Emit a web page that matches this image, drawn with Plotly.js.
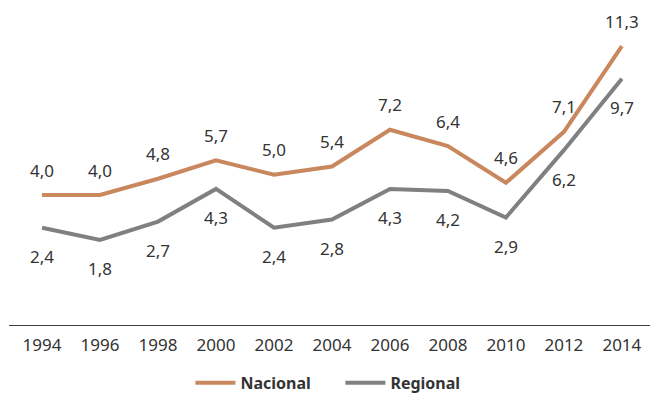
<!DOCTYPE html>
<html>
<head>
<meta charset="utf-8">
<script src="https://cdn.plot.ly/plotly-3.0.1.min.js"></script>
<style>html,body{margin:0;padding:0;background:#fff}#chart{width:652px;height:393px}</style>
</head>
<body>
<div id="chart"></div>
<script>
const years = [1994, 1996, 1998, 2000, 2002, 2004, 2006, 2008, 2010, 2012, 2014];
const nacional = [4.0, 4.0, 4.8, 5.7, 5.0, 5.4, 7.2, 6.4, 4.6, 7.1, 11.3];
const regional = [2.4, 1.8, 2.7, 4.3, 2.4, 2.8, 4.3, 4.2, 2.9, 6.2, 9.7];
const tickLabels = years.map(String);

const fmt = v => v.toFixed(1).replace('.', ',');
const FONT = 'Noto Sans, sans-serif';
const TXT = '#333333';

const traces = [
  {x: years, y: nacional, name: 'Nacional', type: 'scatter', mode: 'lines',
   line: {color: '#C8875C', width: 4}},
  {x: years, y: regional, name: 'Regional', type: 'scatter', mode: 'lines',
   line: {color: '#808083', width: 4}}
];

const annotations = [];
years.forEach((yr, i) => {
  annotations.push({x: yr, y: nacional[i], text: fmt(nacional[i]), showarrow: false,
    yshift: 25, font: {family: FONT, size: 17, color: TXT}});
  annotations.push({x: yr, y: regional[i], text: fmt(regional[i]), showarrow: false,
    yshift: -29, font: {family: FONT, size: 17, color: TXT}});
});

const layout = {
  width: 652, height: 393,
  margin: {l: 9, r: 2, t: 10, b: 68, autoexpand: false},
  paper_bgcolor: '#fff', plot_bgcolor: '#fff',
  font: {family: FONT, size: 17, color: TXT},
  showlegend: true,
  legend: {orientation: 'h', x: 0.283, xanchor: 'left', y: -0.184, yanchor: 'middle',
    entrywidth: 95, itemwidth: 40,
    font: {family: FONT, size: 16, color: TXT, weight: 'bold'}},
  xaxis: {range: [1992.86, 2014.97], tickvals: years, ticktext: tickLabels,
    showgrid: false, zeroline: false, showline: true, linecolor: '#404040', linewidth: 1.3,
    ticks: 'outside', ticklen: 4, tickcolor: 'rgba(0,0,0,0)',
    tickfont: {family: FONT, size: 17, color: TXT}},
  yaxis: {range: [-2.37, 13.07], visible: false, showgrid: false, zeroline: false},
  annotations: annotations
};

Plotly.newPlot('chart', traces, layout, {displayModeBar: false, staticPlot: true});
</script>
</body>
</html>
